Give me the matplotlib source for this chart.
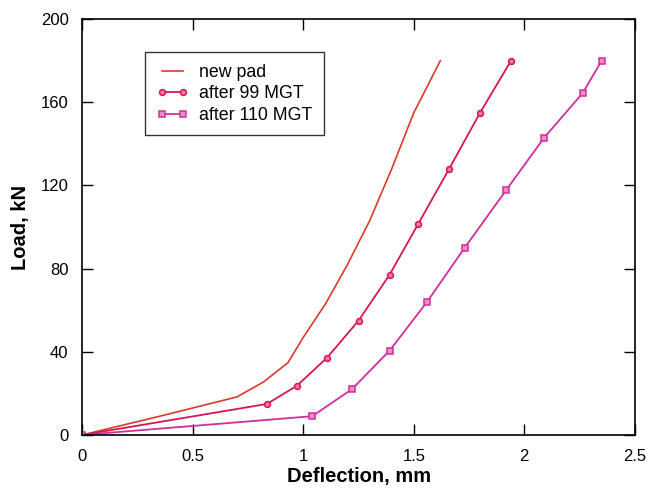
import matplotlib
matplotlib.use("Agg")
import matplotlib.pyplot as plt

plt.rcParams['font.family'] = ['Liberation Sans', 'DejaVu Sans']

new_x = [0, 0.35, 0.70, 0.82, 0.93, 1.0, 1.1, 1.2, 1.3, 1.4, 1.5, 1.62]
new_y = [0, 9, 18.3, 25.5, 34.7, 47, 63, 82, 103, 128, 155, 180]

m99_x = [0, 0.835, 0.97, 1.106, 1.25, 1.39, 1.52, 1.66, 1.80, 1.94]
m99_y = [0, 14.9, 23.6, 37, 55, 77, 101.5, 128, 155, 180]

m110_x = [0, 1.04, 1.22, 1.39, 1.56, 1.73, 1.917, 2.09, 2.265, 2.35]
m110_y = [0, 9.0, 22, 40.5, 64, 90, 117.6, 143, 164.5, 180]

xticks = [0, 0.5, 1, 1.5, 2, 2.5]
xticklabels = ["0", "0.5", "1", "1.5", "2", "2.5"]
yticks = [0, 40, 80, 120, 160, 200]

fig = plt.figure(figsize=(6.49, 4.92), dpi=100)
ax = fig.add_axes([0.127, 0.116, 0.851, 0.845])

ax.plot(new_x, new_y, color='#dc3a2a', lw=1.2, label='new pad')
ax.plot(m99_x, m99_y, color='#d81457', lw=1.3, marker='o', ms=4.2,
        mfc='#f07aa0', mec='#d81457', mew=1.1, label='after 99 MGT')
ax.plot(m110_x, m110_y, color='#d02f98', lw=1.3, marker='s', ms=4,
        mfc='#ee8ccc', mec='#d02f98', mew=1.1, label='after 110 MGT')

ax.set_xlim(0, 2.5)
ax.set_ylim(0, 200)
ax.set_xticks(xticks)
ax.set_xticklabels(xticklabels)
ax.set_yticks(yticks)
ax.tick_params(direction='in', length=8, width=1, top=True, right=True,
               labelsize=12, pad=10)
for s in ax.spines.values():
    s.set_linewidth(1.2)

ax.set_xlabel('Deflection, mm', fontsize=14.5, fontweight='bold', labelpad=2)
ax.set_ylabel('Load, kN', fontsize=14.5, fontweight='bold', labelpad=8)

leg = ax.legend(loc='upper left', bbox_to_anchor=(0.113, 0.92), fontsize=12.8,
                frameon=True, fancybox=False, edgecolor='black', numpoints=2,
                handlelength=1.8, borderpad=0.65, labelspacing=0.25,
                handletextpad=0.6, borderaxespad=0)
leg.get_frame().set_linewidth(1.0)

fig.savefig('out.png', dpi=100)
